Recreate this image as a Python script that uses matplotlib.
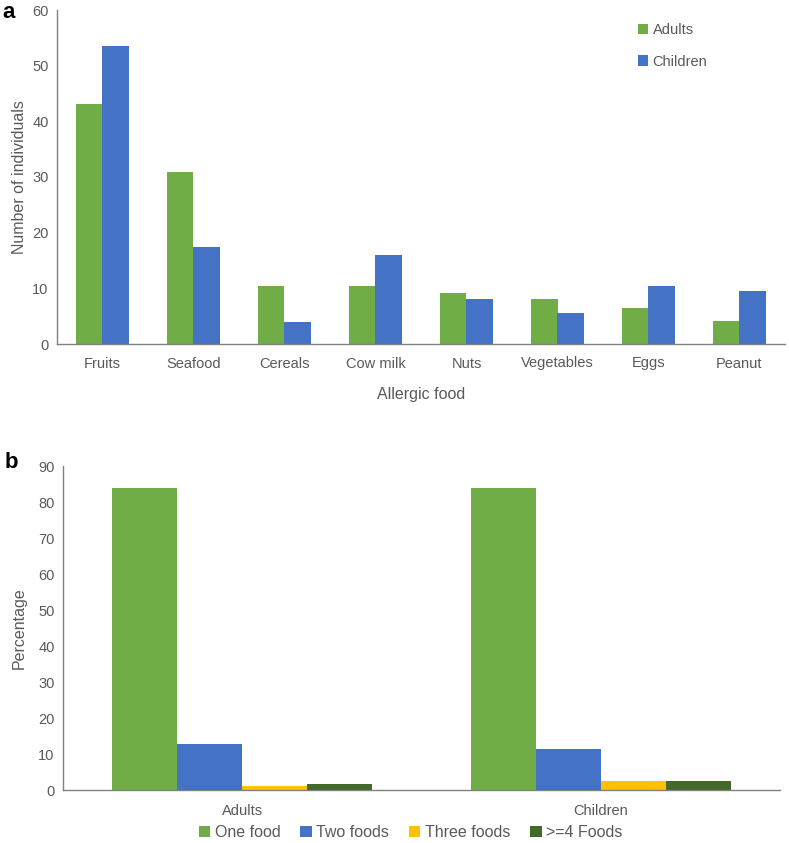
import numpy as np
import matplotlib
matplotlib.use('Agg')
import matplotlib.pyplot as plt

plt.rcParams['font.family'] = ['Liberation Sans', 'DejaVu Sans']

# panel a data
foods = ['Fruits', 'Seafood', 'Cereals', 'Cow milk', 'Nuts', 'Vegetables', 'Eggs', 'Peanut']
adults_counts = [43.1, 30.9, 10.5, 10.5, 9.1, 8.1, 6.5, 4.2]
children_counts = [53.6, 17.5, 4.0, 15.9, 8.0, 5.5, 10.4, 9.5]

# panel b data
groups = ['Adults', 'Children']
n_foods = ['One food', 'Two foods', 'Three foods', '>=4 Foods']
pct = {
    'One food': [84.0, 84.0],
    'Two foods': [12.7, 11.3],
    'Three foods': [1.2, 2.5],
    '>=4 Foods': [1.75, 2.5],
}

GREEN = '#70AD47'
BLUE = '#4472C4'
YELLOW = '#FFC000'
DKGREEN = '#43682B'
TXT = '#595959'
AX = '#808080'

W, H = 789, 843
fig = plt.figure(figsize=(W / 100, H / 100), dpi=100)

def frac(l, t, r, b):
    return [l / W, 1 - b / H, (r - l) / W, (b - t) / H]

def style(ax):
    for s in ['top', 'right']:
        ax.spines[s].set_visible(False)
    for s in ['left', 'bottom']:
        ax.spines[s].set_color(AX)
        ax.spines[s].set_linewidth(1.0)
    ax.tick_params(length=0, colors=TXT, labelsize=10.5, pad=6)

# ---- panel a ----
ax1 = fig.add_axes(frac(57, 10, 785, 344))
x = np.arange(len(foods))
bw = 0.29
ax1.bar(x - bw / 2, adults_counts, bw, color=GREEN, label='Adults')
ax1.bar(x + bw / 2, children_counts, bw, color=BLUE, label='Children')
ax1.set_xlim(-0.5, len(foods) - 0.5)
ax1.set_ylim(0, 60)
ax1.set_yticks(range(0, 61, 10))
ax1.set_xticks(x)
ax1.set_xticklabels(foods)
style(ax1)
ax1.tick_params(axis='x', pad=9)
ax1.set_xlabel('Allergic food', color=TXT, fontsize=11.5, labelpad=12)
ax1.set_ylabel('Number of individuals', color=TXT, fontsize=11.5, labelpad=4)
ax1.legend(loc='upper left', bbox_to_anchor=(0.78, 1.0), frameon=False,
           handlelength=0.7, handleheight=0.7, handletextpad=0.3,
           labelspacing=1.2, fontsize=10.5, labelcolor=TXT)
fig.text(2 / W, 1 - 12 / H, 'a', fontsize=16, fontweight='bold', va='center', ha='left')

# ---- panel b ----
ax2 = fig.add_axes(frac(63, 466, 780, 790))
xb = np.arange(len(groups))
bw2 = 0.181
cols = [GREEN, BLUE, YELLOW, DKGREEN]
for i, (name, c) in enumerate(zip(n_foods, cols)):
    ax2.bar(xb + (i - 1.5) * bw2, pct[name], bw2, color=c, label=name)
ax2.set_xlim(-0.5, len(groups) - 0.5)
ax2.set_ylim(0, 90)
ax2.set_yticks(range(0, 91, 10))
ax2.set_xticks(xb)
ax2.set_xticklabels(groups)
style(ax2)
ax2.tick_params(axis='x', pad=10)
ax2.set_ylabel('Percentage', color=TXT, fontsize=11.5, labelpad=8)
ax2.legend(loc='upper center', bbox_to_anchor=(0.485, -0.065), ncol=4, frameon=False,
           handlelength=0.7, handleheight=0.7, handletextpad=0.3,
           columnspacing=1.25, fontsize=11.5, labelcolor=TXT)
fig.text(5 / W, 1 - 463 / H, 'b', fontsize=16, fontweight='bold', va='center', ha='left')

fig.savefig('out.png', dpi=100)
